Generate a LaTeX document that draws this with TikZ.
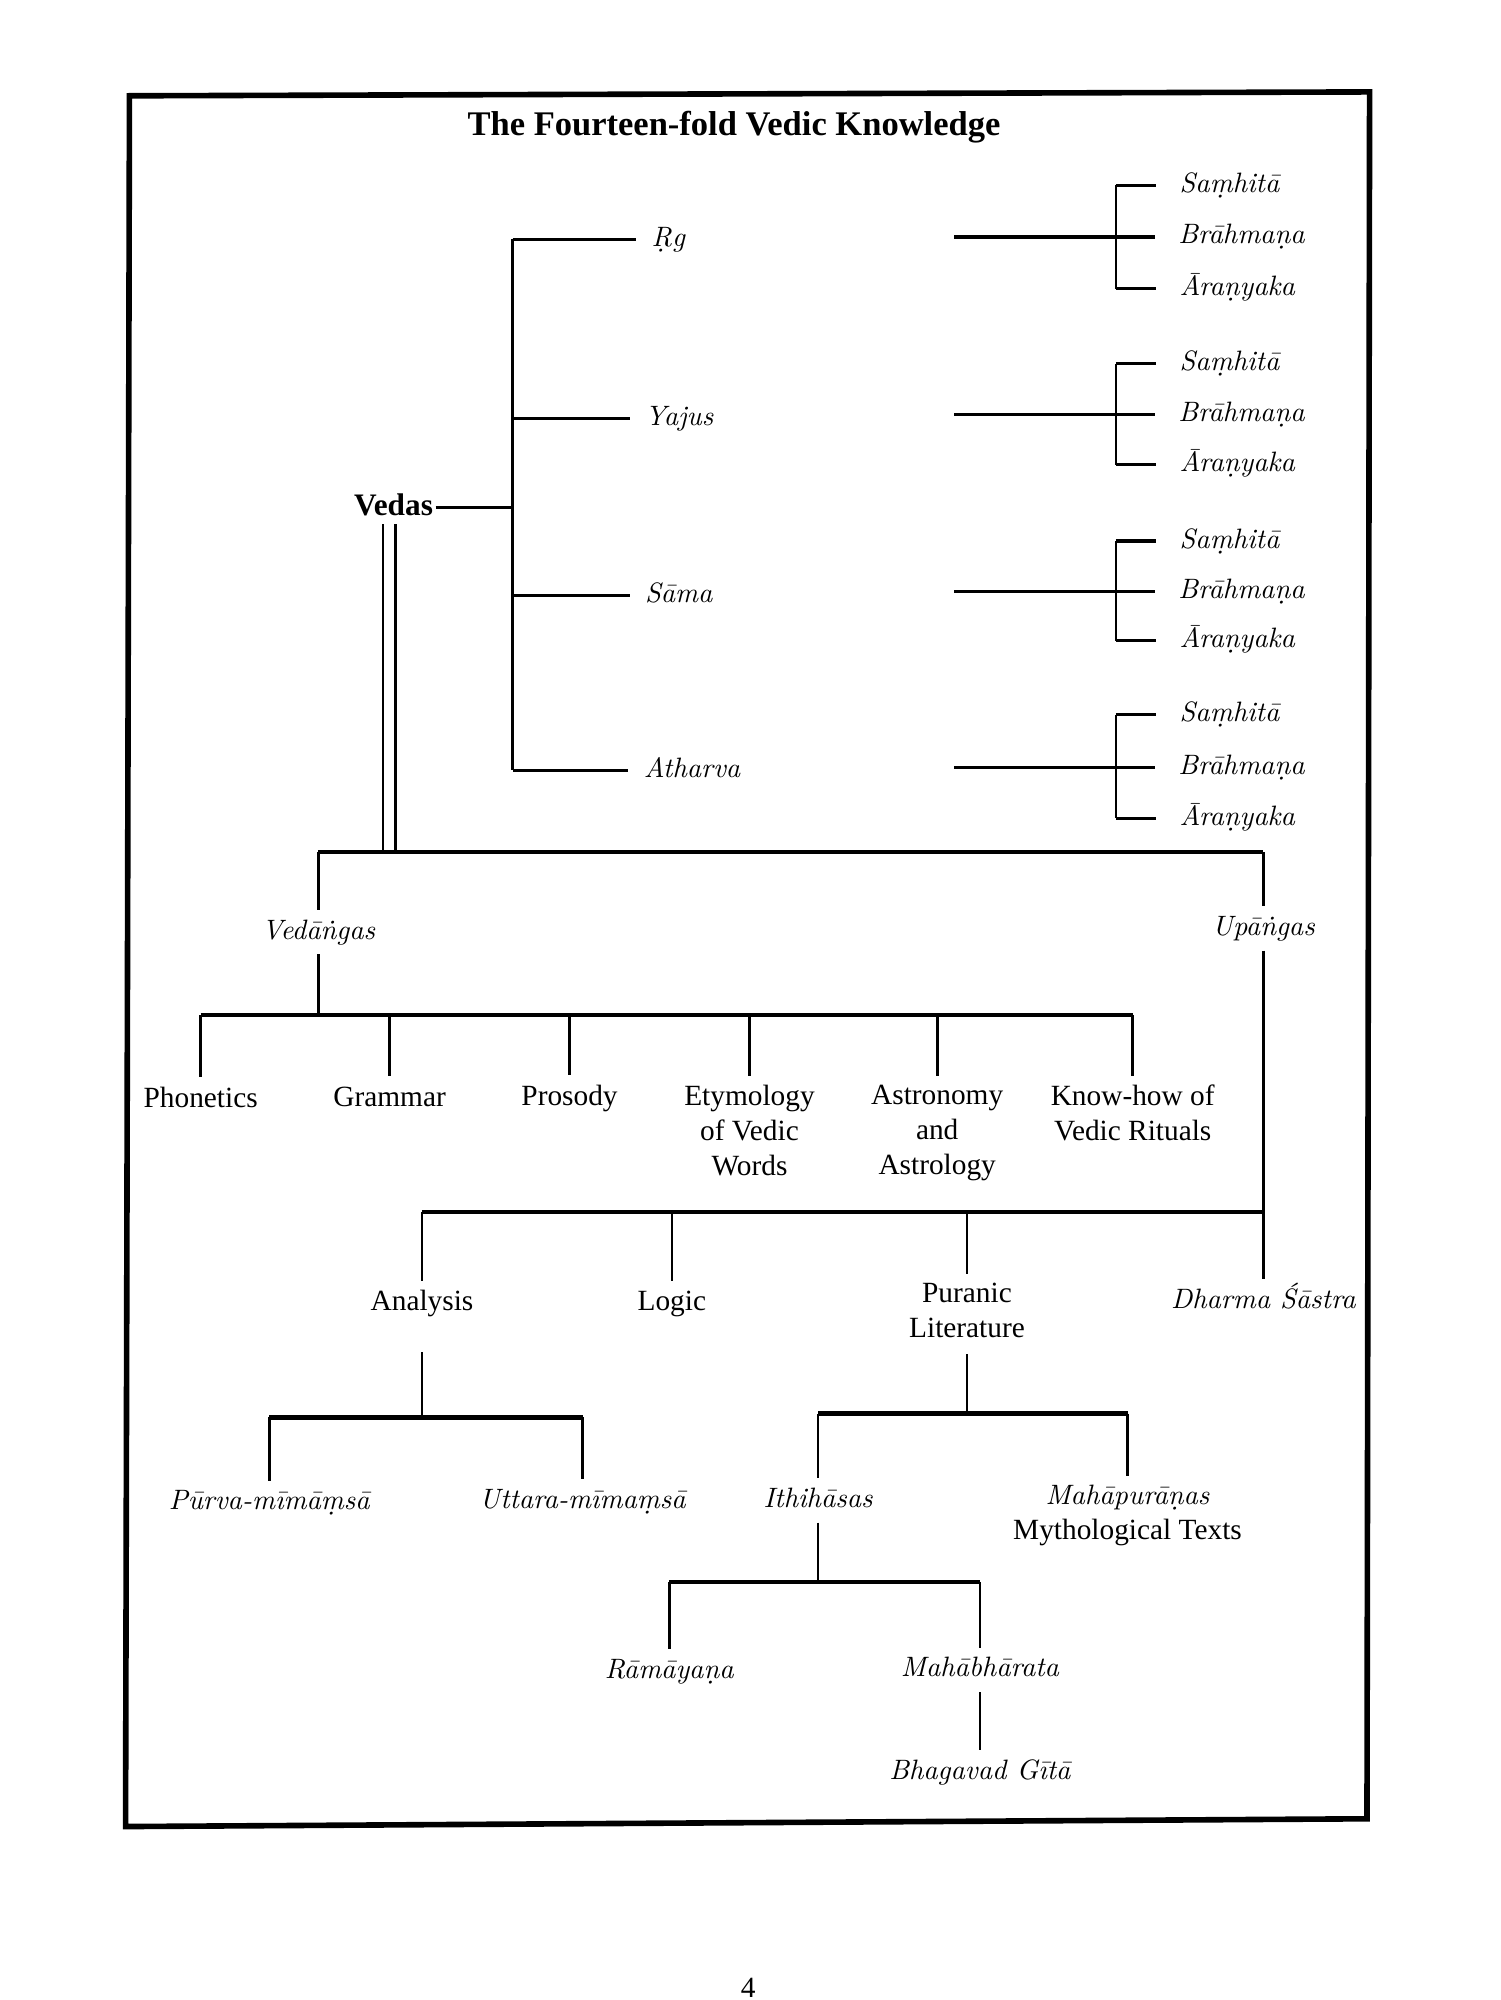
\documentclass[tikz,border=0pt]{standalone}
\usepackage{fontspec}
\setmainfont{Liberation Serif}
\newfontfamily\lmit{lmroman10-italic.otf}
\begin{document}
\begin{tikzpicture}[x=0.6pt,y=-0.6pt,
  rm/.style={font=\fontsize{13.6}{16.2}\selectfont, inner sep=4pt, text height=9.8pt, text depth=3pt},
  rmm/.style={font=\fontsize{13.6}{16.2}\selectfont, inner sep=4pt, align=center, anchor=north},
  it/.style={font=\lmit\fontsize{13}{16}\selectfont, inner sep=4pt, text height=9.4pt, text depth=2.9pt},
  itw/.style={font=\lmit\fontsize{13}{16}\selectfont, inner sep=0pt, anchor=west, text height=9.4pt, text depth=2.9pt},
  ln/.style={line width=1.2pt},
  hln/.style={line width=1.5pt},
  bar/.style={line width=2pt},
]
\useasboundingbox (0,0) rectangle (1159,1545);
\draw[line width=2.6pt] (100,74) -- (1058,71) -- (1056,1405) -- (97,1411) -- cycle;
\node[font=\bfseries\fontsize{16}{19}\selectfont] (title) at (567,98) {The Fourteen-fold Vedic Knowledge};
\node[font=\bfseries\fontsize{14.5}{17}\selectfont, inner sep=1pt, text height=10pt, text depth=3pt] (vedas) at (304,392) {Vedas};

% the four Vedas
\node[itw] (rg) at (503,185) {Ṛg};
\node[itw] (yaj) at (498,323) {Yajus};
\node[itw] (sam) at (498,460) {Sāma};
\node[itw] (ath) at (497,595) {Atharva};
\coordinate (trunk) at (396,0);
\draw[hln] (vedas.east) -- (vedas.east -| trunk);
\draw[ln] (rg.west -| trunk) -- (ath.west -| trunk);
\foreach \n in {rg,yaj,sam,ath} \draw[hln, shorten >=7pt] (\n.west -| trunk) -- (\n.west);

% Samhita / Brahmana / Aranyaka
\coordinate (rx) at (737,0);
\coordinate (br) at (862,0);
\foreach \i/\ys/\yb/\ya in {1/143/183/223, 2/281/320/359, 3/418/457/495, 4/552/593/632} {
  \node[itw] (s\i) at (911,\ys) {Saṃhitā};
  \node[itw] (b\i) at (910,\yb) {Brāhmaṇa};
  \node[itw] (a\i) at (911,\ya) {Āraṇyaka};
  \draw[ln] (s\i.west -| br) -- (a\i.west -| br);
  \draw[hln, shorten >=10.8pt] (s\i.west -| br) -- (s\i.west);
  \draw[hln, shorten >=10.8pt] (a\i.west -| br) -- (a\i.west);
  \draw[hln, shorten >=10.8pt] (b\i.west -| rx) -- (b\i.west);
}

% Vedangas and Upangas
\coordinate (topbar) at (0,658);
\node[it] (vedangas) at (246,720) {Vedāṅgas};
\node[it] (upangas) at (976,717) {Upāṅgas};
\coordinate (dlA) at ([xshift=-4.8pt]vedas.south);
\coordinate (dlB) at ([xshift=0.8pt]vedas.south);
\draw[ln] (dlA) -- (dlA |- topbar);
\draw[ln] (dlB) -- (dlB |- topbar);
\draw[bar] (vedangas.north |- topbar) -- (upangas.north |- topbar);
\draw[ln] (vedangas.north) -- (vedangas.north |- topbar);
\draw[ln] (upangas.north) -- (upangas.north |- topbar);

% Vedangas children
\coordinate (vbar) at (0,784);
\node[rm] (phon) at (155,850) {Phonetics};
\node[rm] (gram) at (301,849) {Grammar};
\node[rm] (pros) at (440,848) {Prosody};
\node[rmm] (etym) at (579,831) {Etymology\\of Vedic\\Words};
\node[rmm] (astr) at (724,831) {Astronomy\\and\\Astrology};
\node[rmm] (know) at (875,831) {Know-how of\\Vedic Rituals};
\draw[ln] (vedangas.south) -- (vedangas.south |- vbar);
\draw[bar] (phon.north |- vbar) -- (know.north |- vbar);
\foreach \n in {phon,gram,pros,etym,astr,know} \draw[ln] (\n.north |- vbar) -- (\n.north);

% Upangas children
\coordinate (ubar) at (0,936);
\node[rm] (anal) at (326,1007) {Analysis};
\node[rm] (logic) at (519,1007) {Logic};
\node[rmm] (pur) at (747,984) {Puranic\\Literature};
\node[it] (dharma) at (976,1005) {Dharma Śāstra};
\draw[ln] (upangas.south) -- (dharma.north);
\draw[bar] (anal.north |- ubar) -- (dharma.north |- ubar);
\foreach \n in {anal,logic,pur} \draw[ln] (\n.north |- ubar) -- (\n.north);

% Analysis children
\coordinate (abar) at (0,1095);
\node[it] (purva) at (208,1161) {Pūrva-mīmāṃsā};
\node[it] (uttara) at (450,1160) {Uttara-mīmaṃsā};
\draw[ln, shorten <=12pt] (anal.south) -- (anal.south |- abar);
\draw[bar] (purva.north |- abar) -- (uttara.north |- abar);
\draw[ln] (purva.north |- abar) -- (purva.north);
\draw[ln] (uttara.north |- abar) -- (uttara.north);

% Puranic children
\coordinate (pbar) at (0,1092);
\node[it] (ithi) at (632,1159) {Ithihāsas};
\node[rmm] (maha) at (871,1140) {{\lmit\fontsize{13}{16.2}\selectfont Mahāpurāṇas}\\Mythological Texts};
\draw[ln, shorten <=3.6pt] (pur.south) -- (pur.south |- pbar);
\draw[bar] (ithi.north |- pbar) -- (maha.north |- pbar);
\draw[ln] (ithi.north |- pbar) -- (ithi.north);
\draw[ln] (maha.north |- pbar) -- (maha.north);

% Ithihasas children
\coordinate (ibar) at (0,1222);
\node[it] (rama) at (517,1291) {Rāmāyaṇa};
\node[it] (mbh) at (757,1290) {Mahābhārata};
\node[it] (gita) at (757,1369) {Bhagavad Gītā};
\draw[ln] (ithi.south) -- (ithi.south |- ibar);
\draw[bar] (rama.north |- ibar) -- (mbh.north |- ibar);
\draw[ln] (rama.north |- ibar) -- (rama.north);
\draw[ln] (mbh.north |- ibar) -- (mbh.north);
\draw[ln] (mbh.south) -- (gita.north);

\node[rm] (pnum) at (578,1537) {4};
\end{tikzpicture}
\end{document}
